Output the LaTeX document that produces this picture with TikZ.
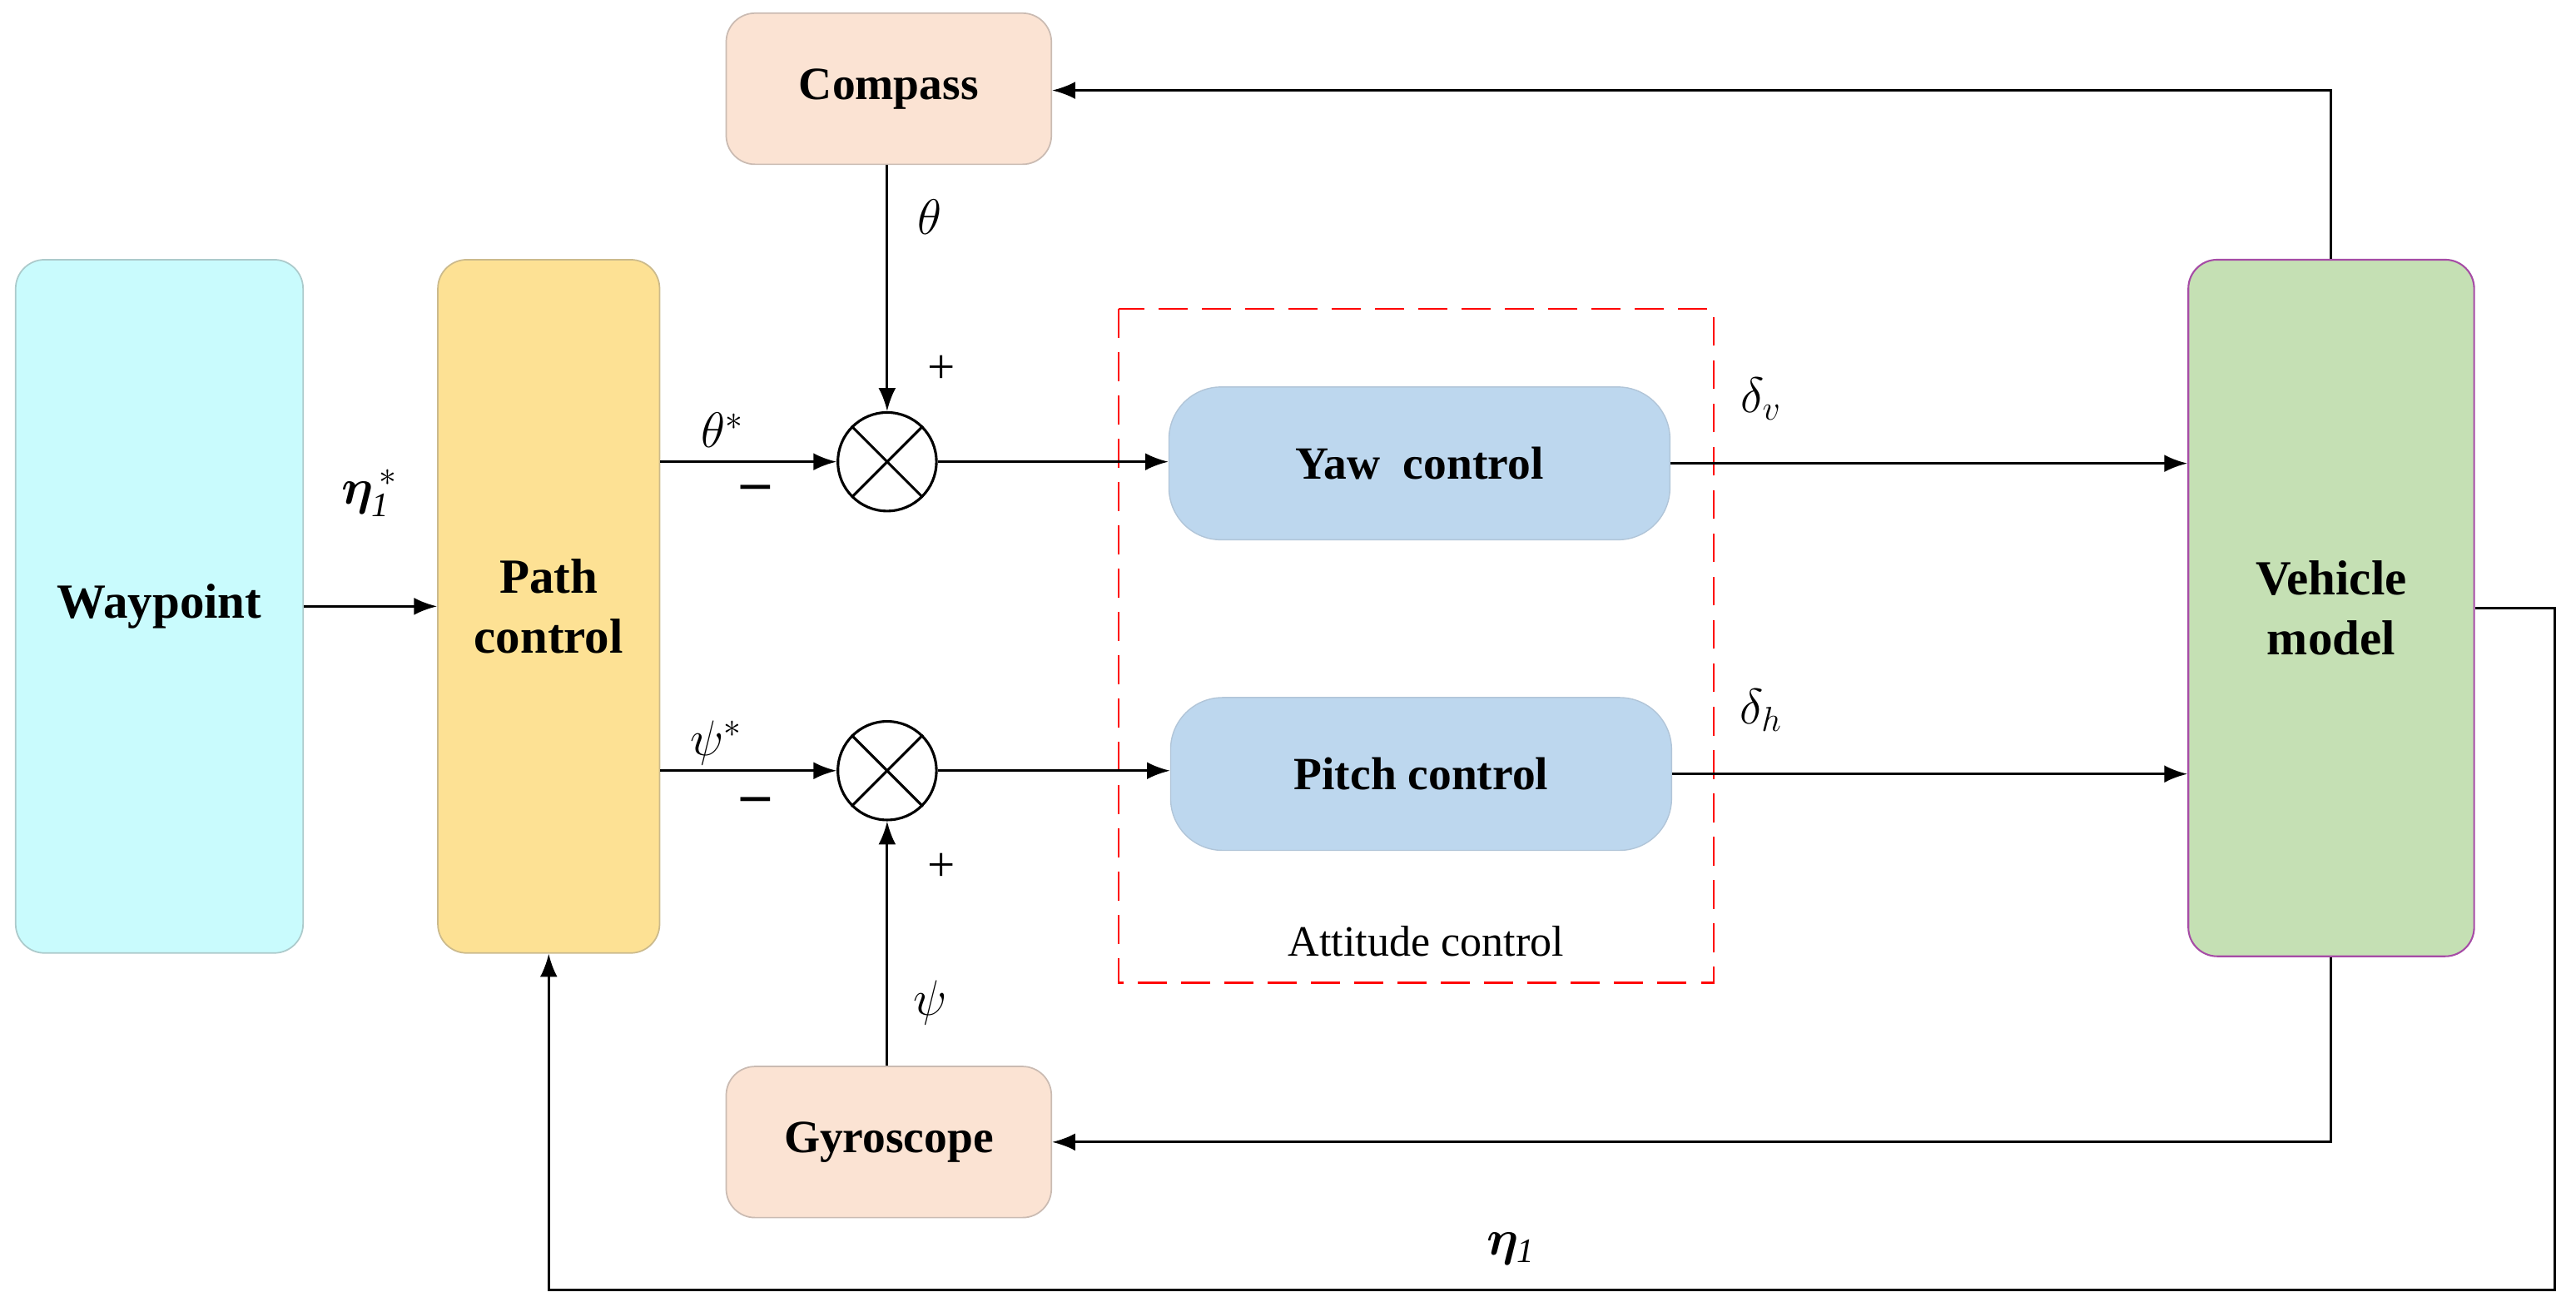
\documentclass[tikz,border=0pt]{standalone}
\usepackage{amsmath,amssymb,bm}
\usepackage{fontspec}
\setmainfont{Liberation Serif}
\usetikzlibrary{arrows.meta}
\definecolor{wpcyan}{HTML}{C9FBFD}
\definecolor{pcyel}{HTML}{FDE194}
\definecolor{snpeach}{HTML}{FBE3D3}
\definecolor{ctblue}{HTML}{BDD7EE}
\definecolor{vmgreen}{HTML}{C5E0B4}
\tikzset{
  blk/.style={draw=#1!60!gray, rounded corners=10pt, line width=0.5pt, inner sep=0pt,
    font=\fontsize{17}{21}\selectfont\bfseries, align=center},
  sens/.style={blk=snpeach, fill=snpeach, minimum width=3.96cm, minimum height=1.84cm,
    font=\fontsize{16}{19}\selectfont\bfseries},
  ctrl/.style={draw=ctblue!80!gray, fill=ctblue, rounded corners=18pt, minimum width=6.1cm,
    minimum height=1.86cm, font=\fontsize{16}{19}\selectfont\bfseries},
  sumj/.style={circle, draw, line width=0.9pt, minimum size=1.2cm, inner sep=0pt},
  sig/.style={-{Latex[length=8pt,width=6pt]}, line width=0.9pt},
  lbl/.style={font=\fontsize{17}{20}\selectfont},
}
\begin{document}
\begin{tikzpicture}[x=0.02cm,y=-0.02cm]
  \useasboundingbox (0,0) rectangle (1568,798);

  \node[blk=wpcyan, fill=wpcyan, minimum width=3.5cm, minimum height=8.44cm] (wp) at (97,369) {Waypoint};
  \node[blk=pcyel, fill=pcyel, minimum width=2.7cm, minimum height=8.44cm] (pc) at (334,369) {Path\\control};
  \node[sens] (cmp) at (541,54) {Compass};
  \node[sens] (gyr) at (541,695) {Gyroscope};
  \node[draw=violet!70, fill=vmgreen, rounded corners=10pt, line width=0.6pt, minimum width=3.48cm,
    minimum height=8.48cm, font=\fontsize{17}{21}\selectfont\bfseries, align=center] (vm) at (1419,370) {Vehicle\\model};
  \node[ctrl] (yaw) at (864,282) {Yaw\ \ control};
  \node[ctrl] (pit) at (865,471) {Pitch control};
  \node[sumj] (s1) at (540,281) {};
  \node[sumj] (s2) at (540,469) {};
  \draw[line width=0.9pt] (s1.north west) -- (s1.south east) (s1.north east) -- (s1.south west);
  \draw[line width=0.9pt] (s2.north west) -- (s2.south east) (s2.north east) -- (s2.south west);

  % attitude loop frame
  \draw[red, dash pattern=on 10pt off 5pt, line width=0.7pt] (681,188) rectangle (1043,598);
  \node[font=\fontsize{15}{18}\selectfont] (att) at (868,573) {Attitude control};

  \draw[sig] (wp.east) -- (pc.west);
  \draw[sig] (pc.east |- s1) -- (s1.west);
  \draw[sig] (pc.east |- s2) -- (s2.west);
  \draw[sig] (s1.east) -- (yaw.west |- s1);
  \draw[sig] (s2.east) -- (pit.west |- s2);
  \draw[sig] (yaw.east) -- (vm.west |- yaw);
  \draw[sig] (pit.east) -- (vm.west |- pit);
  \draw[sig] (s1 |- cmp.south) -- (s1.north);
  \draw[sig] (s2 |- gyr.north) -- (s2.south);
  \draw[sig] (vm.north) |- (cmp.east |- 0,55);
  \draw[sig] (vm.south) |- (gyr.east);
  \draw[sig] (vm.east |- 0,370) -- (1555,370) -- (1555,785) -| (pc.south);

  \node[lbl] at (225,300) {$\bm{\eta}_{\mathit{1}}^{\,*}$};
  \node[lbl] at (440,262) {$\theta^{*}$};
  \node[lbl] at (436,452) {$\psi^{*}$};
  \node[font=\fontsize{20}{20}\selectfont\bfseries] at (460,300) {--};
  \node[font=\fontsize{20}{20}\selectfont\bfseries] at (460,490) {--};
  \node[lbl] at (573,225) {+};
  \node[lbl] at (573,528) {+};
  \node[lbl] at (566,132) {$\theta$};
  \node[lbl] at (566,610) {$\psi$};
  \node[lbl] at (1072,243) {$\delta_v$};
  \node[lbl] at (1072,432) {$\delta_h$};
  \node[lbl] at (920,760) {$\bm{\eta}_{\mathit{1}}$};
\end{tikzpicture}
\end{document}
